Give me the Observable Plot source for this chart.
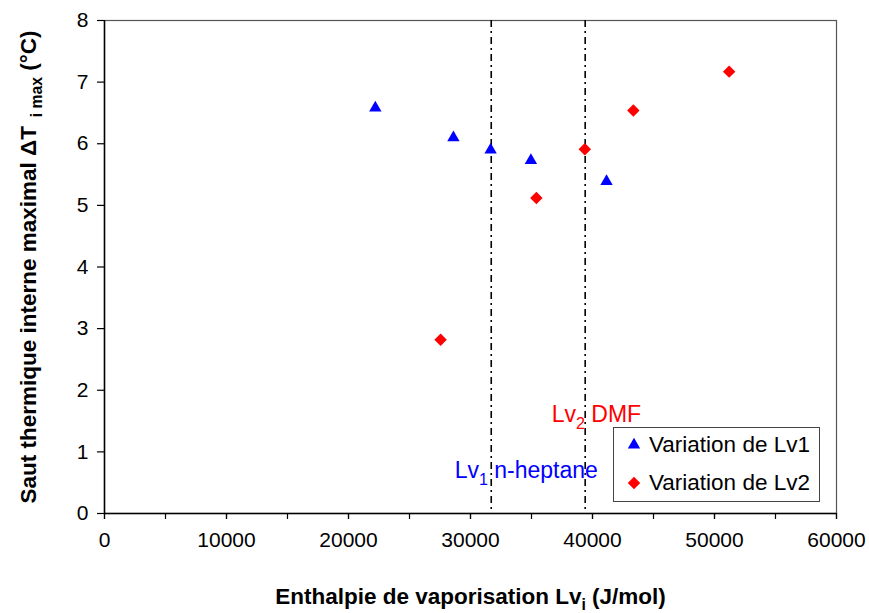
<!DOCTYPE html>
<html>
<head>
<meta charset="utf-8">
<script src="https://cdn.jsdelivr.net/npm/d3@7"></script>
<script src="https://cdn.jsdelivr.net/npm/@observablehq/plot@0.6"></script>
<style>
  html, body { margin: 0; padding: 0; background: #fff; }
  #wrap { position: relative; width: 869px; height: 613px; font-family: "Liberation Sans", Arial, sans-serif; }
  #legend { position: absolute; left: 613px; top: 427px; width: 205px; height: 73px; border: 1px solid #444; background: #fff; box-sizing: content-box; }
  .row { position: absolute; left: 0; height: 26px; font-size: 22.5px; line-height: 26px; color: #000; white-space: nowrap; }
  .row svg { position: absolute; left: 10px; top: 3px; }
  .row span { position: absolute; left: 35px; top: 0; }
</style>
</head>
<body>
<div id="wrap"></div>
<script>
// ---- data ----
const lv1X = [22200, 28600, 31650, 34950, 41150];
const lv1Y = [6.58, 6.10, 5.90, 5.73, 5.39];
const lv2X = [27550, 35400, 39370, 43350, 51200];
const lv2Y = [2.82, 5.12, 5.91, 6.54, 7.17];
const seriesNames = ["Variation de Lv1", "Variation de Lv2"];
const seriesColors = ["#0000ff", "#ff0000"];
const refLines = [31700, 39400];
const annotLabels = ["Lv_{1} n-heptane", "Lv_{2} DMF"];
const annotX = [28700, 36650];
const annotY = [0.70, 1.61];
const annotColors = ["#0000ff", "#ff0000"];
const xTicksMajor = [0, 10000, 20000, 30000, 40000, 50000, 60000];
const xTicksMinor = [0, 5000, 10000, 15000, 20000, 25000, 30000, 35000, 40000, 45000, 50000, 55000, 60000];
const yTicks = [0, 1, 2, 3, 4, 5, 6, 7, 8];
const xTitle = "Enthalpie de vaporisation Lv_{i} (J/mol)";
const yTitle = "Saut thermique interne maximal ΔT_{  i max} (°C)";

const pts1 = lv1X.map((x, i) => ({x, y: lv1Y[i]}));
const pts2 = lv2X.map((x, i) => ({x, y: lv2Y[i]}));
const annots = annotLabels.map((t, i) => ({t, x: annotX[i], y: annotY[i], c: annotColors[i]}));

const chart = Plot.plot({
  width: 869,
  height: 613,
  marginLeft: 104,
  marginRight: 33,
  marginTop: 20,
  marginBottom: 100,
  style: {fontFamily: "'Liberation Sans', Arial, sans-serif", fontSize: "21px", color: "#000", background: "#fff"},
  x: {domain: [0, 60000]},
  y: {domain: [0, 8]},
  marks: [
    Plot.frame({stroke: "#555", strokeWidth: 1.2}),
    Plot.ruleX(refLines, {stroke: "#000", strokeWidth: 1.6, strokeDasharray: "7,4,2,4"}),
    Plot.axisX({ticks: xTicksMinor, tickSize: 6, tickFormat: () => "", label: null, strokeWidth: 1.2}),
    Plot.axisX({ticks: xTicksMajor, tickSize: 6, tickPadding: 13, tickFormat: d => String(d), fontSize: 21, label: null, strokeWidth: 1.2}),
    Plot.axisY({ticks: yTicks, tickSize: 7, tickPadding: 9, fontSize: 21, label: null, strokeWidth: 1.2}),
    Plot.ruleY([0], {stroke: "#000", strokeWidth: 1.5}),
    Plot.ruleX([0], {stroke: "#000", strokeWidth: 1.5}),
    Plot.dot(pts1, {x: "x", y: "y", symbol: "triangle", r: 4.6, fill: seriesColors[0], stroke: null}),
    Plot.dot(pts2, {x: "x", y: "y", symbol: "diamond2", r: 5.6, fill: seriesColors[1], stroke: null}),
    Plot.text(annots, {x: "x", y: "y", text: "t", fill: "c", textAnchor: "start", fontSize: 23}),
    Plot.text([xTitle], {frameAnchor: "bottom", dy: 90, text: d => d, fontWeight: "bold", fontSize: 22.5}),
    Plot.text([yTitle], {frameAnchor: "left", textAnchor: "middle", dx: -76, rotate: -90, text: d => d, fontWeight: "bold", fontSize: 22.5})
  ]
});

// turn "_{...}" into subscript tspans (text stays real text)
d3.select(chart).selectAll("text").each(function() {
  const el = this;
  const txt = el.textContent;
  if (!txt.includes("_{")) return;
  const fs = parseFloat(el.getAttribute("font-size") || el.parentNode.getAttribute("font-size") || 20) || 20;
  const shift = fs * 0.3;
  const parts = txt.split(/(_\{[^}]*\})/).filter(p => p.length);
  while (el.firstChild) el.removeChild(el.firstChild);
  let shifted = false;
  for (const p of parts) {
    const ts = document.createElementNS("http://www.w3.org/2000/svg", "tspan");
    if (p.startsWith("_{")) {
      ts.textContent = p.slice(2, -1);
      ts.setAttribute("font-size", (fs * 0.7) + "px");
      ts.setAttribute("dy", shift);
      shifted = true;
    } else {
      ts.textContent = p;
      if (shifted) { ts.setAttribute("dy", -shift); shifted = false; }
    }
    el.appendChild(ts);
  }
});

const wrap = document.getElementById("wrap");
wrap.appendChild(chart);

// legend
const legend = document.createElement("div");
legend.id = "legend";
const rowsTop = [4, 42];
seriesNames.forEach((name, i) => {
  const row = document.createElement("div");
  row.className = "row";
  row.style.top = rowsTop[i] + "px";
  const sym = d3.symbol(i === 0 ? d3.symbolTriangle : d3.symbolDiamond2, Math.PI * (i === 0 ? 4.6 : 5.6) ** 2)();
  row.innerHTML = `<svg width="20" height="20" viewBox="-10 -10 20 20"><path d="${sym}" fill="${seriesColors[i]}"/></svg><span>${name}</span>`;
  legend.appendChild(row);
});
wrap.appendChild(legend);
</script>
</body>
</html>
